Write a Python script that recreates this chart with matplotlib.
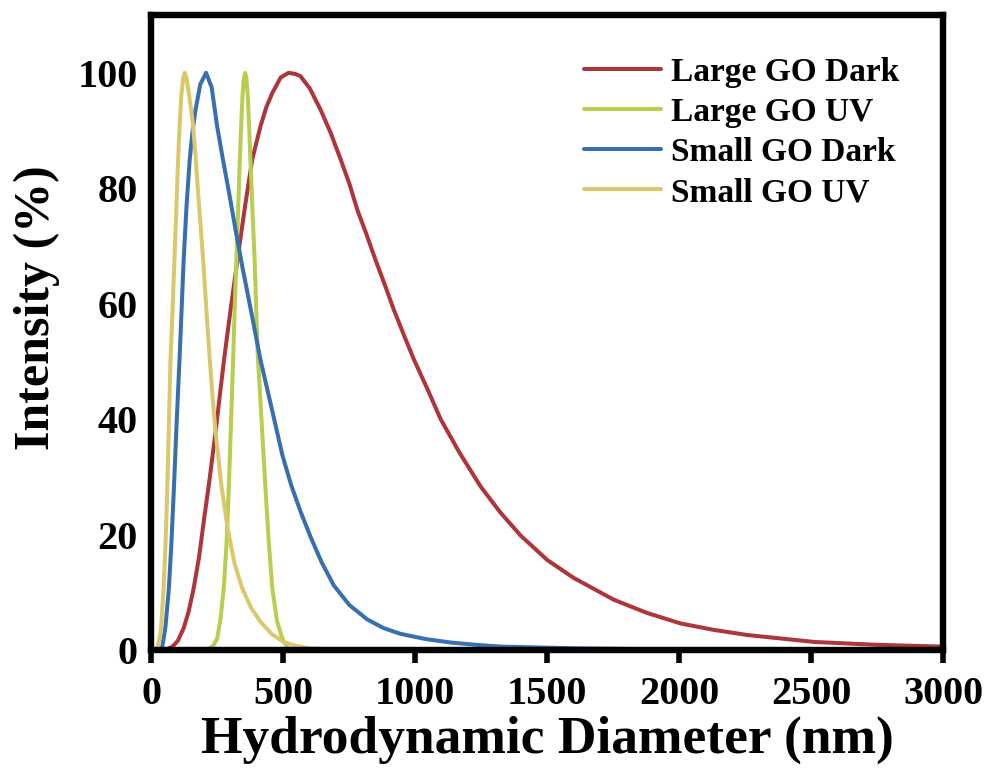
import matplotlib
matplotlib.use("Agg")
import matplotlib.pyplot as plt

plt.rcParams.update({"font.family": "Liberation Serif", "font.weight": "bold"})

# hydrodynamic diameter (nm) vs intensity (%)
large_dark_x = [40, 60, 80, 100, 122, 140, 160, 180, 198, 220, 243, 260, 277, 300, 331,
                355, 382, 413, 435, 458, 490, 520, 545, 565, 600, 641, 680, 717, 750,
                780, 815, 849, 885, 919, 960, 995, 1050, 1096, 1170, 1248, 1323, 1400,
                1500, 1600, 1753, 1880, 2006, 2130, 2259, 2512, 2750, 2992]
large_dark_y = [0, 0.2, 0.6, 1.6, 3.8, 6.5, 10.7, 16, 22.2, 29.5, 37.8, 44.5, 51, 59, 69.3,
                77, 85, 90.7, 94, 96.5, 99.2, 100, 99.8, 99.4, 97.3, 93.6, 89.5, 85, 80.8,
                76.3, 72, 67.6, 63.2, 58.9, 54.2, 50.3, 44.8, 40, 34, 28.3, 23.8, 19.8,
                15.6, 12.5, 8.7, 6.4, 4.6, 3.5, 2.6, 1.4, 0.9, 0.6]

large_uv_x = [210, 217, 235, 249, 262, 274, 284, 293, 302, 310, 316, 322, 329, 335, 340,
              345, 350, 355, 360, 365, 370, 375, 383, 391, 397, 403, 412, 422, 432, 445,
              458, 476, 496, 512, 527]
large_uv_y = [0, 0.2, 0.8, 2, 5.5, 10.7, 18, 28, 40, 51, 60, 67.6, 77, 85, 91,
              96, 99, 100, 99, 96, 91, 85, 76, 67.6, 59, 51, 44, 36, 28, 18.5,
              10.7, 5, 2, 0.6, 0]

small_dark_x = [20, 40, 53, 66, 75, 85, 96, 107, 122, 133, 145, 156, 167, 185, 207, 228,
                249, 270, 291, 318, 344, 378, 413, 455, 496, 530, 565, 603, 645, 691,
                750, 818, 880, 944, 1040, 1134, 1230, 1323, 1600, 2000, 2373]
small_dark_y = [0, 0.3, 4, 10.7, 18, 28, 40, 51, 67.6, 77, 85, 90, 93.6, 98, 100, 97.5,
                90.7, 85.2, 80, 73, 66.5, 58.6, 50.3, 42, 33.8, 28.5, 24, 19.6, 15.2, 11.2,
                7.8, 5.3, 3.8, 2.8, 1.9, 1.3, 0.9, 0.6, 0.3, 0.1, 0]

small_uv_x = [10, 22, 35, 46, 53, 60, 66, 72, 80, 87, 94, 101, 107, 113, 120, 126, 133,
              140, 149, 158, 168, 177, 187, 196, 208, 221, 232, 243, 265, 289, 315, 344,
              378, 413, 455, 500, 550, 603, 750, 950]
small_uv_y = [0, 0.3, 3, 10.7, 18, 28, 39, 50.3, 59, 67.6, 76, 85, 91, 96, 99, 100, 99,
              97, 94, 90.7, 85, 79, 73, 67.6, 59, 50.3, 43.5, 37.8, 28.5, 21, 15, 10.7,
              7.3, 4.9, 2.8, 1.4, 0.7, 0.3, 0.05, 0]

labels = ["Large GO Dark", "Large GO UV", "Small GO Dark", "Small GO UV"]
colors = ["#AE353A", "#B8CE4E", "#3870AE", "#DCC86C"]
series = [(large_dark_x, large_dark_y), (large_uv_x, large_uv_y),
          (small_dark_x, small_dark_y), (small_uv_x, small_uv_y)]

fig = plt.figure(figsize=(9.9, 7.69), dpi=100)
ax = fig.add_axes([0.153, 0.1547, 0.7995, 0.8257])

for (xs, ys), lab, c in zip(series, labels, colors):
    ax.plot(xs, ys, color=c, lw=2.9, label=lab, solid_joinstyle="round",
            solid_capstyle="round")

ax.set_xlim(0, 3000)
ax.set_ylim(0, 110)
ax.set_xticks(range(0, 3001, 500))
ax.set_yticks(range(0, 101, 20))
for s in ax.spines.values():
    s.set_linewidth(4.6)
ax.tick_params(axis="x", direction="out", length=9.5, width=4, labelsize=29, pad=9)
ax.tick_params(axis="y", length=0, labelsize=29, pad=10)
for t in ax.get_xticklabels() + ax.get_yticklabels():
    t.set_fontweight("bold")

ax.set_xlabel("Hydrodynamic Diameter (nm)", fontsize=38.5, fontweight="bold", labelpad=2)
ax.set_ylabel("Intensity (%)", fontsize=36, fontweight="bold")
ax.yaxis.set_label_coords(-0.115, 0.54)

ax.legend(loc="upper right", bbox_to_anchor=(0.983, 0.981), frameon=False,
          handlelength=2.3, handletextpad=0.3, labelspacing=0.27,
          prop={"weight": "bold", "size": 24})

fig.savefig("out.png", dpi=100)
